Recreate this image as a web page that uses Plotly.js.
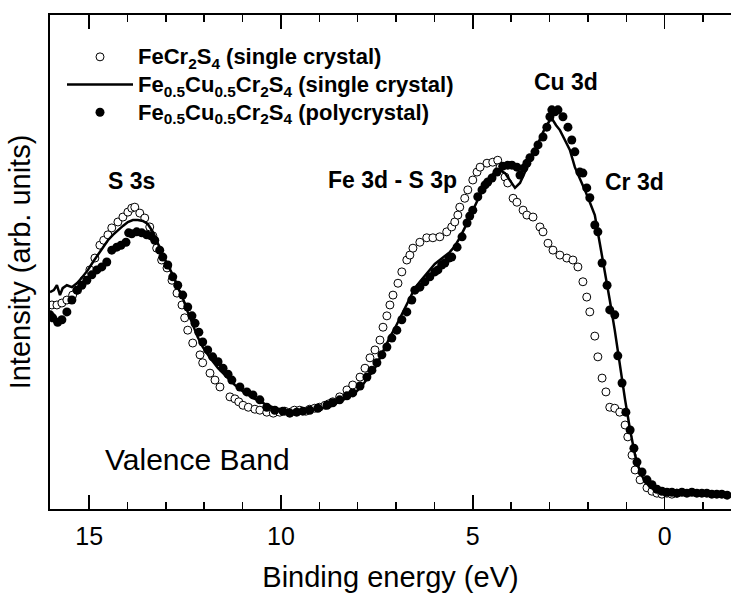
<!DOCTYPE html>
<html>
<head>
<meta charset="utf-8">
<script src="https://cdn.plot.ly/plotly-3.0.1.min.js"></script>
<style>html,body{margin:0;padding:0;background:#fff;}#chart{width:731px;height:595px;}</style>
</head>
<body>
<div id="chart"></div>
<script>
// Series 1: FeCr2S4 (single crystal) - open circles
const openE = [15.97,15.84,15.71,15.58,15.43,15.30,15.14,14.98,14.85,14.72,14.62,14.51,14.41,14.25,14.12,13.99,13.89,13.81,13.68,13.55,13.42,13.34,13.24,13.11,12.97,12.84,12.71,12.58,12.51,12.43,12.30,12.11,12.04,11.85,11.72,11.59,11.33,11.20,11.10,10.99,10.85,10.68,10.55,10.37,10.20,10.03,9.90,9.75,9.65,9.51,9.35,9.25,9.12,9.00,8.85,8.75,8.65,8.47,8.28,8.13,7.94,7.81,7.68,7.55,7.42,7.34,7.24,7.16,7.08,6.95,6.85,6.72,6.64,6.56,6.38,6.20,6.04,5.86,5.68,5.55,5.47,5.39,5.34,5.21,5.13,5.00,4.89,4.81,4.63,4.48,4.35,4.29,4.16,4.09,3.95,3.85,3.69,3.59,3.43,3.25,3.17,3.04,2.91,2.73,2.55,2.39,2.26,2.13,2.03,1.95,1.82,1.74,1.63,1.53,1.43,1.30,1.17,1.03,0.96,0.85,0.77,0.64,0.46,0.33,0.20,0.07,-0.06,-0.19,-0.32];
const openI = [41.3,41.3,41.7,42.3,43.3,44.3,46.3,48.4,50.8,53.4,54.4,55.5,56.9,58.1,59.1,60.1,60.9,61.1,59.9,58.9,57.1,55.3,52.8,50.4,48.8,46.3,43.7,41.3,38.7,36.2,33.6,31.2,29.6,27.5,26.1,24.7,22.7,22.3,21.7,21.0,20.6,20.2,20.0,19.6,19.4,19.6,19.8,19.6,20.0,20.0,19.8,20.2,20.4,20.6,21.0,21.3,21.7,22.7,24.1,25.1,26.7,28.5,30.6,32.2,34.2,36.8,39.1,41.3,43.3,45.7,48.0,50.4,51.4,52.8,54.0,54.9,54.9,55.1,56.1,57.1,58.1,59.5,61.1,62.9,64.6,66.6,68.2,69.2,70.0,70.2,70.6,69.2,67.2,66.0,62.9,62.1,60.5,59.5,59.1,57.1,56.1,53.8,52.4,51.4,50.8,50.4,49.0,46.0,42.9,39.9,35.0,30.8,26.5,23.7,20.6,20.4,19.6,17.0,14.6,10.9,7.9,5.9,4.3,3.6,3.2,3.0,3.2,3.0,3.2];

// Series 2: Fe0.5Cu0.5Cr2S4 (single crystal) - solid line
const lineE = [16.02,15.92,15.84,15.76,15.69,15.58,15.45,15.32,15.19,15.03,14.90,14.77,14.64,14.51,14.38,14.25,14.12,13.99,13.86,13.73,13.60,13.47,13.34,13.21,13.08,12.95,12.82,12.69,12.56,12.43,12.30,12.17,12.04,11.85,11.64,11.46,11.20,10.94,10.68,10.42,10.16,9.90,9.64,9.38,9.12,8.86,8.59,8.33,8.07,7.89,7.73,7.55,7.42,7.29,7.16,7.03,6.90,6.77,6.64,6.51,6.38,6.25,6.12,5.99,5.86,5.73,5.60,5.47,5.34,5.21,5.08,4.95,4.81,4.68,4.56,4.43,4.29,4.16,4.03,3.90,3.77,3.64,3.51,3.38,3.25,3.12,2.99,2.91,2.83,2.73,2.60,2.47,2.34,2.21,2.08,1.95,1.82,1.69,1.56,1.43,1.30,1.17,1.03,0.90,0.77,0.64,0.51,0.38,0.25,0.12,-0.01,-0.14,-0.40,-0.66,-0.92,-1.18,-1.44,-1.73];
const lineI = [43.9,44.3,45.3,43.3,44.7,45.3,44.9,45.7,46.8,48.4,50.0,51.4,52.8,54.4,55.5,56.5,57.3,58.1,58.5,58.5,58.3,57.7,56.1,53.8,51.4,49.4,47.4,44.9,42.7,39.9,37.2,34.8,32.8,30.6,28.5,27.1,25.1,23.5,22.3,21.3,20.4,20.0,19.8,20.0,20.2,20.6,21.3,22.3,23.5,24.9,26.5,28.5,30.6,32.8,34.8,36.6,38.7,40.7,42.7,44.7,46.0,47.2,48.4,49.6,50.4,51.2,52.0,53.2,54.9,56.9,59.1,61.5,63.6,65.6,67.0,68.2,68.6,68.0,66.6,65.0,66.0,68.2,70.2,72.7,74.7,77.1,78.7,78.7,77.7,76.7,74.7,72.7,69.2,67.0,64.6,62.1,59.5,53.8,48.4,42.3,36.2,29.1,22.1,16.0,10.9,7.5,5.5,4.5,3.8,3.6,3.4,3.4,3.2,3.2,3.2,3.0,3.0,3.0];

// Series 3: Fe0.5Cu0.5Cr2S4 (polycrystal) - filled circles
const polyE = [16.02,15.95,15.82,15.71,15.58,15.45,15.32,15.19,15.06,14.93,14.80,14.67,14.54,14.41,14.28,14.17,14.04,13.97,13.89,13.76,13.63,13.50,13.39,13.29,13.16,13.08,12.95,12.82,12.69,12.56,12.43,12.32,12.24,12.14,12.04,11.91,11.78,11.64,11.51,11.38,11.28,11.07,10.89,10.73,10.55,10.37,10.16,9.95,9.77,9.59,9.43,9.25,9.04,8.80,8.65,8.47,8.28,8.13,7.94,7.76,7.63,7.50,7.37,7.24,7.11,6.98,6.85,6.72,6.59,6.51,6.38,6.25,6.12,5.99,5.91,5.81,5.73,5.62,5.55,5.41,5.28,5.15,5.08,5.00,4.87,4.76,4.68,4.61,4.50,4.37,4.22,4.09,3.98,3.85,3.77,3.67,3.59,3.51,3.38,3.30,3.17,3.07,2.99,2.94,2.86,2.78,2.65,2.52,2.42,2.34,2.21,2.13,2.03,1.95,1.82,1.74,1.63,1.50,1.43,1.30,1.22,1.11,1.01,0.90,0.80,0.72,0.59,0.46,0.33,0.20,0.07,-0.06,-0.19,-0.32,-0.45,-0.58,-0.71,-0.84,-0.97,-1.10,-1.23,-1.36,-1.49,-1.63];
const polyI = [39.3,38.7,37.8,38.3,39.9,42.3,44.3,45.3,46.3,47.4,48.4,49.0,50.0,52.4,53.0,53.4,54.0,55.9,55.7,56.1,55.9,55.5,55.3,54.4,52.4,51.0,49.4,47.0,45.3,43.3,40.9,39.1,37.6,35.8,33.8,32.2,30.8,29.8,28.5,27.3,26.1,24.7,23.7,23.1,22.1,20.6,20.0,19.8,19.4,19.6,19.8,20.0,20.4,21.0,21.5,22.1,22.9,23.5,24.9,26.7,28.1,29.6,31.2,32.8,34.6,36.2,38.3,39.9,42.3,44.3,44.9,46.0,47.0,48.0,48.4,49.4,49.8,50.8,51.0,53.0,55.1,57.9,59.3,60.5,63.2,64.6,65.6,66.2,67.0,68.2,69.4,69.6,69.6,69.2,67.6,69.0,70.0,71.1,72.3,73.7,75.3,77.3,79.4,80.8,80.4,80.8,79.4,77.3,74.7,72.3,68.2,68.0,65.0,63.0,57.5,56.1,49.8,45.3,40.3,39.3,31.0,25.5,19.6,16.0,12.3,9.5,7.5,5.9,4.9,4.0,3.6,3.4,3.4,3.2,3.4,3.2,3.4,3.2,3.2,3.2,3.0,3.0,3.0,2.8];

const seriesNames = [
  'FeCr<sub>2</sub>S<sub>4</sub> (single crystal)',
  'Fe<sub>0.5</sub>Cu<sub>0.5</sub>Cr<sub>2</sub>S<sub>4</sub> (single crystal)',
  'Fe<sub>0.5</sub>Cu<sub>0.5</sub>Cr<sub>2</sub>S<sub>4</sub> (polycrystal)'
];
const xTicks = [15, 10, 5, 0];
const peakLabels = ['S 3s', 'Fe 3d - S 3p', 'Cu 3d', 'Cr 3d'];

const FONT = 'Liberation Sans, Arial, Helvetica, sans-serif';
const legendLabel = s => '<span style="font-size:22px"><b>' + s + '</b></span>';

const traces = [
  {x: openE, y: openI, type: 'scatter', mode: 'markers', name: legendLabel(seriesNames[0]), legendrank: 1,
   marker: {symbol: 'circle', size: 8, color: 'white', line: {color: 'black', width: 1}}},
  {x: polyE, y: polyI, type: 'scatter', mode: 'markers', name: legendLabel(seriesNames[2]), legendrank: 3,
   marker: {symbol: 'circle', size: 9, color: 'black'}},
  {x: lineE, y: lineI, type: 'scatter', mode: 'lines', name: legendLabel(seriesNames[1]), legendrank: 2,
   line: {color: 'black', width: 2.5}}
];

// paper coords from pixel positions in a plot area spanning x 50..731, y 15..509
const px = v => (v - 50) / 681;
const py = v => (509 - v) / 494;

const ann = (text, x, y, size, bold, anchor) => ({
  text: bold ? '<b>' + text + '</b>' : text, x: px(x), y: py(y), xref: 'paper', yref: 'paper',
  showarrow: false, xanchor: anchor || 'center', yanchor: 'middle',
  font: {family: FONT, size: size, color: 'black'}
});

const layout = {
  width: 731, height: 595,
  margin: {l: 50, r: 0, t: 15, b: 86},
  paper_bgcolor: 'white', plot_bgcolor: 'white',
  font: {family: FONT, color: 'black'},
  showlegend: true,
  legend: {x: px(62), y: py(38), xanchor: 'left', yanchor: 'top', bgcolor: 'rgba(0,0,0,0)',
           font: {family: FONT, size: 19, color: 'black'}, tracegroupgap: 0, itemwidth: 66},
  xaxis: {
    range: [16.02, -1.73], tickvals: xTicks, ticktext: xTicks.map(String),
    ticks: 'inside', ticklen: 14, tickwidth: 1.5, tickcolor: 'black',
    minor: {dtick: 1, ticks: 'inside', ticklen: 7, tickwidth: 1.5, tickcolor: 'black'},
    showline: true, linecolor: 'black', linewidth: 2, mirror: 'ticks',
    showgrid: false, zeroline: false, ticklabelstandoff: 4,
    tickfont: {family: FONT, size: 25, color: 'black'},
    title: {text: 'Binding energy (eV)', font: {family: FONT, size: 29, color: 'black'}, standoff: 18}
  },
  yaxis: {
    range: [0, 100], showticklabels: false, ticks: '',
    showline: true, linecolor: 'black', linewidth: 2, mirror: true,
    showgrid: false, zeroline: false,
    title: {text: 'Intensity (arb. units)', font: {family: FONT, size: 29, color: 'black'}, standoff: 9}
  },
  annotations: [
    ann(peakLabels[0], 131, 181, 23, true),
    ann(peakLabels[1], 392, 180, 23, true),
    ann(peakLabels[2], 566, 82, 23, true),
    ann(peakLabels[3], 634, 182, 23, true),
    ann('Valence Band', 292, 459, 30, false, 'right')
  ]
};

Plotly.newPlot('chart', traces, layout, {displayModeBar: false, staticPlot: true});
</script>
</body>
</html>
